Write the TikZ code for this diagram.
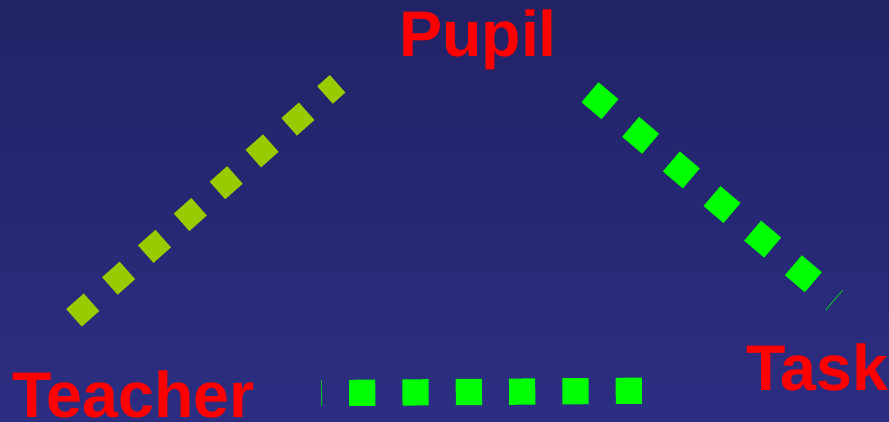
\documentclass[tikz,border=0pt]{standalone}
\usepackage{fontspec}
\setmainfont{Liberation Sans}
\usepackage{xcolor}
\usetikzlibrary{positioning,calc}
\definecolor{bgTop}{HTML}{222266}
\definecolor{bgBot}{HTML}{2C2E82}
\definecolor{olG}{HTML}{99CC00}
\definecolor{brG}{HTML}{00FF00}

\begin{document}
\begin{tikzpicture}[x=1pt, y=-1pt,
  role/.style={text=red, font=\bfseries\fontsize{64.5}{70}\selectfont, inner sep=0pt, anchor=base west},
  link/.style={line cap=butt},
  linkA/.style={link, draw=olG, line width=23.4pt, dash pattern=on 23.4pt off 24.55pt},
  linkB/.style={link, draw=brG, line width=26.2pt, dash pattern=on 26.2pt off 27.2pt},
  linkC/.style={link, draw=brG, line width=26.2pt, dash pattern=on 26.2pt off 27.12pt},
  ]
% ---- the backdrop
\shade[top color=bgTop, bottom color=bgBot] (0,0) rectangle (889,421);
\useasboundingbox (0,0) rectangle (889,421);
% ---- the three roles
\node[role] (pupil)   at (399,56)    {Pupil};
\node[role] (teacher) at (12,417.4)  {Teacher};
\node[role] (task)    at (746,390)   {Task};
% ---- the ends of the links
\coordinate (teacherUp) at (74,317.8);
\coordinate (pupilL)    at (337.6,83.8);
\coordinate (pupilR)    at (590,92.2);
\coordinate (taskUp)    at (834.4,300.2);
\coordinate (taskL)     at (641.9,390.7);
\coordinate (teacherR)  at (321.4,393.1);
% ---- the links
\draw[linkA] (teacherUp) -- (pupilL);
\draw[linkB] (pupilR) -- (taskUp);
\draw[linkC] (taskL) -- (teacherR);
\end{tikzpicture}
\end{document}
